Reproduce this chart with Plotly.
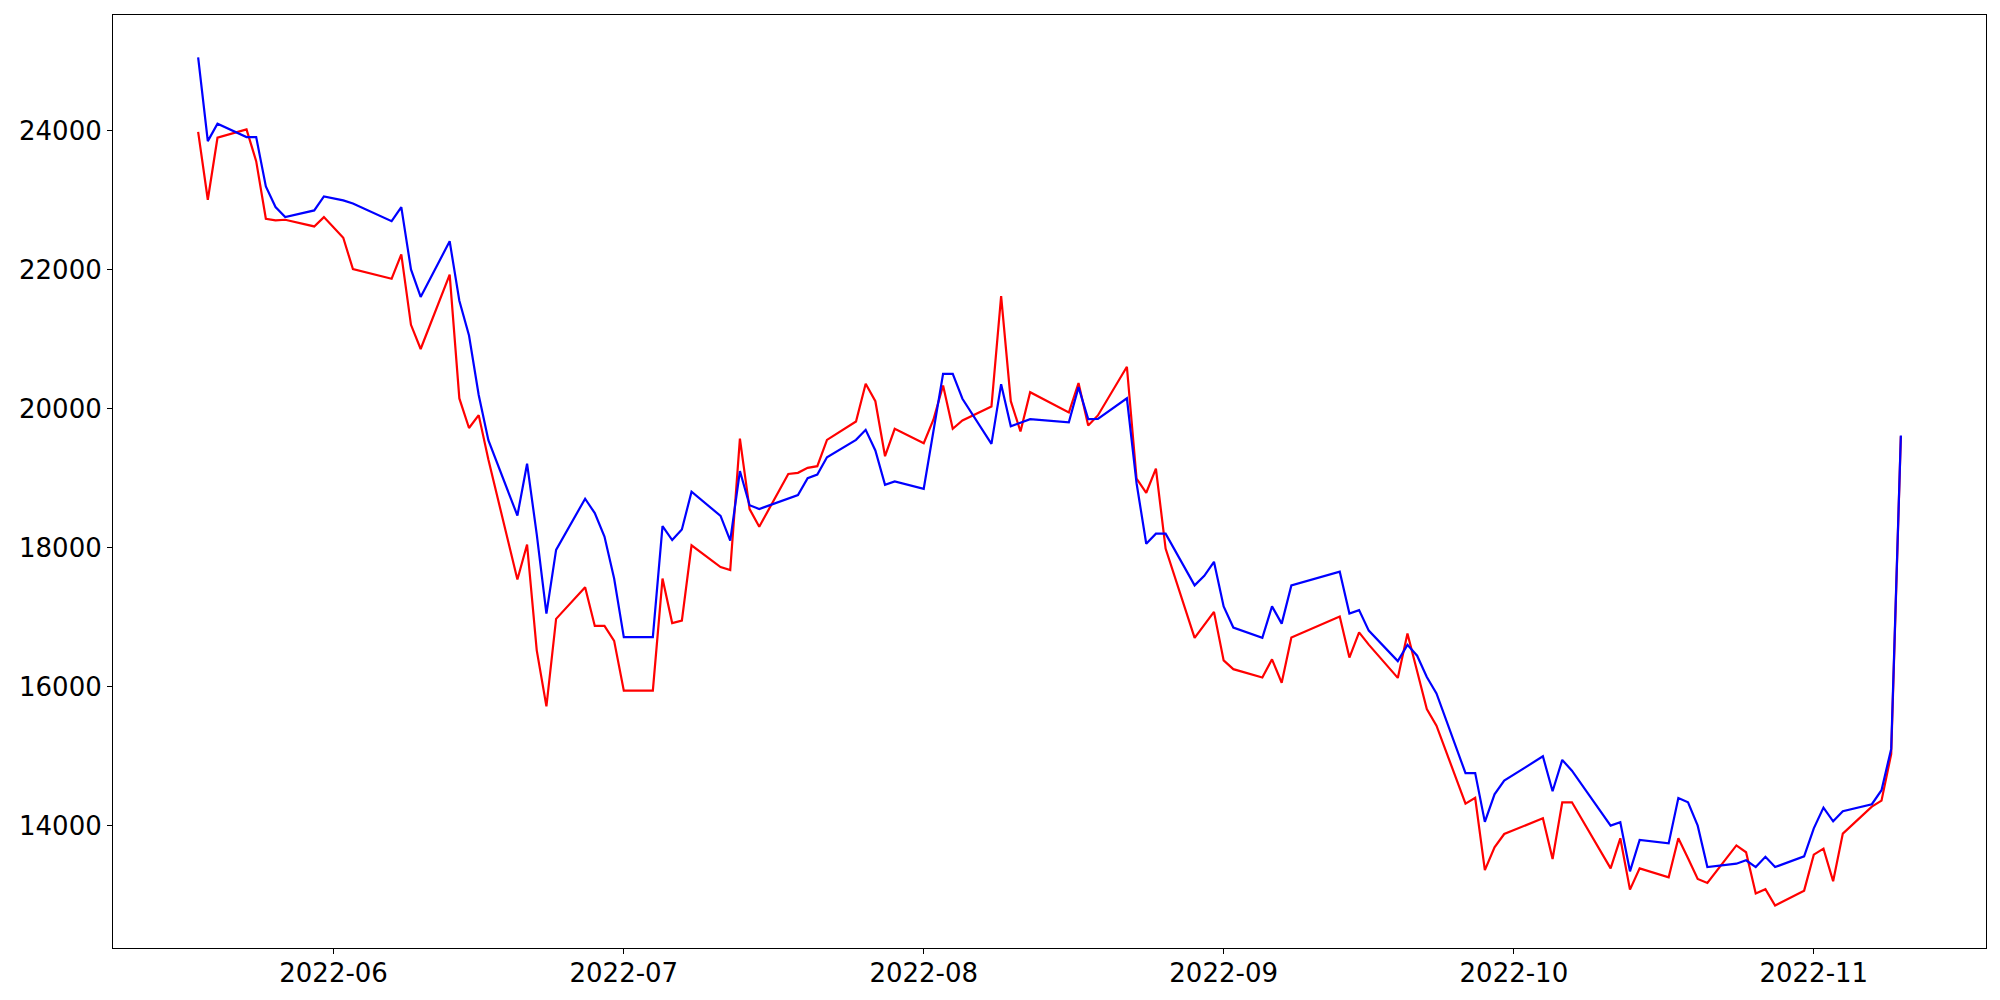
import pandas as pd
from plotly import graph_objects as go

# trading calendar (Korean market holidays in the period are skipped)
START_DATE = "2022-05-18"
END_DATE = "2022-11-10"
HOLIDAYS = ["2022-06-01", "2022-06-06", "2022-08-15", "2022-09-09", "2022-09-12", "2022-10-03", "2022-10-10"]

red_values = [
    # May
    23980, 23003, 23895, 24014, 23558, 22729, 22705, 22715, 22619, 22753,
    # June
    22456, 22004, 21866, 22216, 21204, 20856, 21925, 20145, 19720, 19905,
    19266, 17540, 18043, 16521, 15715, 16974, 17428, 16873, 16873, 16658,
    # July
    15942, 15942, 17554, 16914, 16950, 18032, 17720, 17675, 19566, 18554,
    18300, 19058, 19075, 19147, 19170, 19549, 19813, 20355, 20105, 19314, 19708,
    # August
    19501, 19838, 20331, 19708, 19827, 20029, 21615, 20105, 19669, 20235,
    19942, 20367, 19755, 19900, 20600, 18990, 18788, 19135, 17985, 16702,
    16882, 17075,
    # September
    16377, 16251, 16130, 16392, 16055, 16705, 17007, 16417, 16780, 16604,
    16125, 16764, 16220, 15676, 15438, 14316, 14400, 13360, 13688, 13880,
    # October
    14105, 13520, 14336, 14336, 13386, 13818, 13079, 13386, 13256, 13818,
    13530, 13233, 13175, 13715, 13617, 13023, 13085, 12851, 13065,
    # November
    13583, 13669, 13200, 13885, 14273, 14360, 15029, 19600,
]

blue_values = [
    # May
    25050, 23846, 24096, 23904, 23904, 23194, 22897, 22753, 22849, 23050,
    # June
    22993, 22950, 22695, 22897, 22000, 21605, 22405, 21550, 21050, 20195,
    19543, 18460, 19206, 18190, 17050, 17967, 18702, 18495, 18158, 17554,
    # July
    16712, 16712, 18309, 18108, 18259, 18803, 18455, 18100, 19100, 18608,
    18555, 18700, 18756, 18997, 19050, 19299, 19549, 19693, 19396, 18902, 18950,
    # August
    18845, 19670, 20499, 20499, 20140, 19492, 20350, 19745, 19795, 19847,
    19800, 20307, 19847, 19850, 20147, 18925, 18055, 18200, 18200, 17456,
    17594, 17795,
    # September
    17154, 16850, 16702, 17154, 16906, 17456, 17652, 17051, 17100, 16805,
    16367, 16600, 16444, 16137, 15902, 14755, 14755, 14054, 14450, 14647,
    # October
    14997, 14494, 14945, 14791, 14000, 14048, 13343, 13794, 13745, 14398,
    14336, 14000, 13404, 13453, 13502, 13404, 13551, 13404, 13558,
    # November
    13961, 14259, 14062, 14207, 14308, 14510, 15104, 19612,
]

y_ticks = [14000, 16000, 18000, 20000, 22000, 24000]
x_ticks = ["2022-06-01", "2022-07-01", "2022-08-01", "2022-09-01", "2022-10-01", "2022-11-01"]

dates = pd.bdate_range(START_DATE, END_DATE)
dates = dates[~dates.isin(pd.to_datetime(HOLIDAYS))]

fig = go.Figure()
fig.add_trace(go.Scatter(x=dates, y=red_values, mode="lines", line=dict(color="red", width=2.2)))
fig.add_trace(go.Scatter(x=dates, y=blue_values, mode="lines", line=dict(color="blue", width=2.2)))

axis_style = dict(
    showline=True,
    linecolor="black",
    linewidth=1.1,
    mirror=True,
    ticks="outside",
    ticklen=5,
    tickwidth=1.1,
    tickcolor="black",
    showgrid=False,
    zeroline=False,
    automargin=False,
    tickfont=dict(family="DejaVu Sans", size=26, color="black"),
)

# the page body has an 8px margin, so the figure is 8px smaller and margins shifted
fig.update_layout(
    width=1992,
    height=992,
    showlegend=False,
    paper_bgcolor="white",
    plot_bgcolor="white",
    margin=dict(l=105, r=14, t=7, b=52),
)
fig.update_xaxes(
    axis_style,
    range=["2022-05-09 04:48", "2022-11-18 19:12"],
    tickvals=x_ticks,
    tickformat="%Y-%m",
    ticklabelstandoff=-3,
)
fig.update_yaxes(axis_style, range=[12240, 25660], tickvals=y_ticks, tickformat="d")

fig.write_html("out.html")
